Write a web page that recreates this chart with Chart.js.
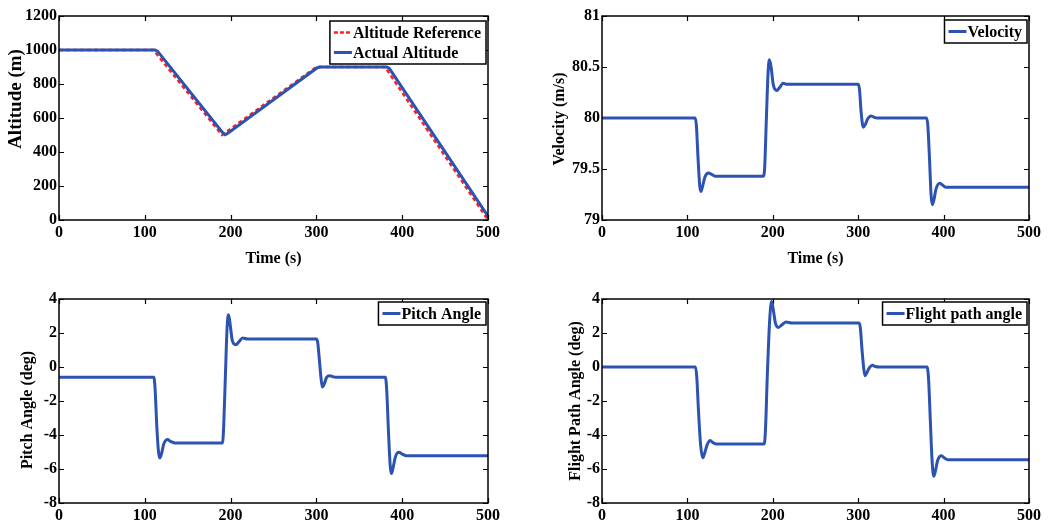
<!DOCTYPE html>
<html><head><meta charset="utf-8">
<script src="https://cdn.jsdelivr.net/npm/chart.js@4/dist/chart.umd.min.js"></script>
<style>
html,body{margin:0;padding:0;background:#fff;}
#wrap{position:relative;width:1049px;height:525px;overflow:hidden;background:#fff;}
.c{position:absolute;}
</style></head><body>
<div id="wrap">
<div class="c" style="left:0;top:0;width:525px;height:270px"><canvas id="c1"></canvas></div>
<div class="c" style="left:540px;top:0;width:509px;height:270px"><canvas id="c2"></canvas></div>
<div class="c" style="left:0;top:270px;width:525px;height:255px"><canvas id="c3"></canvas></div>
<div class="c" style="left:540px;top:270px;width:509px;height:255px"><canvas id="c4"></canvas></div>
</div>
<script>
// ---------- data ----------
const timeTicks = [0, 100, 200, 300, 400, 500];
const altitudeTicks = [0, 200, 400, 600, 800, 1000, 1200];
const velocityTicks = [79, 79.5, 80, 80.5, 81];
const angleTicks = [-8, -6, -4, -2, 0, 2, 4];

const altRefT = [0, 110, 190, 300, 380, 500];
const altRefV = [1000, 1000, 500, 900, 900, 0];
const altActT = [0, 112, 115, 191, 193.5, 196, 301, 304, 382, 385, 500];
const altActV = [1000, 1000, 992, 512, 502, 508, 896, 900, 900, 892, 22];

const velT = [0, 109, 110.5, 112.5, 114.5, 115.8, 117.5, 120.5, 124.7, 128, 132.5, 189, 190.5, 192.5, 194.5, 196, 198, 200.5, 204.6, 208, 212, 217, 300, 301.5, 303.5, 306, 308, 311, 315, 318, 322, 380, 381.5, 383.5, 385.3, 386.6, 388.5, 391, 395.5, 399, 403, 500];
const velV = [80, 80, 79.93, 79.6, 79.33, 79.28, 79.32, 79.42, 79.46, 79.45, 79.43, 79.43, 79.52, 80.0, 80.45, 80.57, 80.5, 80.33, 80.27, 80.3, 80.34, 80.33, 80.33, 80.28, 80.05, 79.91, 79.93, 79.99, 80.02, 80.01, 80.0, 80.0, 79.93, 79.6, 79.25, 79.15, 79.19, 79.3, 79.36, 79.34, 79.32, 79.32];

const pitchT = [0, 110.6, 112, 114, 116, 117.6, 119.5, 122, 126.6, 130, 135, 190.6, 192, 194, 196, 197.6, 199.5, 202, 206, 210, 214, 220, 300, 301.5, 303.5, 305.5, 307, 309.5, 312, 315.6, 320, 325, 380.4, 382, 384, 386, 387.4, 389.5, 392, 396, 400, 405, 500];
const pitchV = [-0.61, -0.61, -1.3, -3.5, -5.0, -5.35, -5.1, -4.55, -4.27, -4.38, -4.47, -4.47, -3.4, -0.4, 2.4, 3.08, 2.5, 1.55, 1.31, 1.5, 1.71, 1.65, 1.65, 1.45, 0.4, -0.7, -1.18, -0.95, -0.6, -0.51, -0.58, -0.61, -0.61, -1.4, -3.8, -5.8, -6.27, -5.9, -5.3, -5.02, -5.12, -5.22, -5.22];

const fpaT = [0, 109.5, 111, 113, 115.5, 118, 120, 123, 126.7, 130, 134, 190, 191.5, 193.5, 196.5, 198.7, 200.5, 203, 206.5, 211, 215.5, 222, 301, 302.5, 304.5, 306.5, 308, 310, 313, 316.8, 320, 325, 380.7, 382.5, 384.5, 386.5, 388.5, 390.5, 393, 397.5, 401, 405, 500];
const fpaV = [0, 0, -0.6, -2.6, -4.6, -5.35, -5.1, -4.6, -4.33, -4.45, -4.53, -4.53, -3.6, -0.6, 2.9, 3.86, 3.4, 2.6, 2.33, 2.5, 2.65, 2.59, 2.59, 2.3, 1.0, -0.1, -0.51, -0.35, -0.05, 0.1, 0.03, 0, 0, -0.8, -3.2, -5.5, -6.43, -6.1, -5.5, -5.22, -5.35, -5.45, -5.45];

// ---------- styling ----------
const BLUE = '#2c52b2';
const RED = '#ff1f1f';
const FONT = 'Liberation Serif, Times New Roman, serif';

Chart.defaults.font.family = FONT;
Chart.defaults.font.weight = 'bold';
Chart.defaults.font.size = 16;
Chart.defaults.color = '#000';

const pts = (t, v) => t.map((x, i) => ({x: x, y: v[i]}));

const framePlugin = {
  id: 'frame',
  beforeDatasetsDraw(chart) {
    const a = chart.chartArea, ctx = chart.ctx;
    const o = chart.options.plugins.frame;
    ctx.save();
    ctx.strokeStyle = '#000';
    ctx.lineWidth = 1.2;
    ctx.beginPath();
    o.xTicks.forEach(v => {
      const px = Math.round(chart.scales.x.getPixelForValue(v)) + 0.5;
      ctx.moveTo(px, a.bottom); ctx.lineTo(px, a.bottom - 5);
      ctx.moveTo(px, a.top); ctx.lineTo(px, a.top + 5);
    });
    o.yTicks.forEach(v => {
      const py = Math.round(chart.scales.y.getPixelForValue(v)) + 0.5;
      ctx.moveTo(a.left, py); ctx.lineTo(a.left + 5, py);
      ctx.moveTo(a.right, py); ctx.lineTo(a.right - 5, py);
    });
    ctx.stroke();
    // y axis title (rotated)
    ctx.fillStyle = '#000';
    ctx.font = 'bold ' + o.yTitleSize + 'px ' + FONT;
    ctx.textAlign = 'center';
    ctx.textBaseline = 'middle';
    ctx.translate(o.yTitleX, (a.top + a.bottom) / 2 + o.yTitleDy);
    ctx.rotate(-Math.PI / 2);
    ctx.fillText(o.yTitle, 0, 0);
    ctx.restore();
  },
  afterDatasetsDraw(chart) {
    const a = chart.chartArea, ctx = chart.ctx;
    const o = chart.options.plugins.frame;
    ctx.save();
    ctx.strokeStyle = '#000';
    ctx.lineWidth = 1.5;
    ctx.strokeRect(a.left, a.top, a.right - a.left, a.bottom - a.top);
    // legend box
    ctx.font = 'bold 16px ' + FONT;
    let tw = 0;
    o.items.forEach(it => { tw = Math.max(tw, ctx.measureText(it.label).width); });
    const w = 4 + 19 + 1 + tw + 4;
    const h = o.items.length * 20 + 3;
    const right = a.right - 2, top = a.top + o.legTop;
    const left = right - w;
    ctx.fillStyle = '#fff';
    ctx.fillRect(left, top, w, h);
    ctx.lineWidth = 1.5;
    ctx.strokeRect(left, top, w, h);
    o.items.forEach((it, i) => {
      const y = top + 11.5 + i * 20;
      ctx.beginPath();
      ctx.strokeStyle = it.color;
      ctx.lineWidth = it.dash ? 2.5 : 3;
      ctx.setLineDash(it.dash || []);
      ctx.moveTo(left + 4, y); ctx.lineTo(left + 22, y);
      ctx.stroke();
      ctx.setLineDash([]);
      ctx.fillStyle = '#000';
      ctx.textBaseline = 'middle';
      ctx.textAlign = 'left';
      ctx.fillText(it.label, left + 23, y + 1);
    });
    ctx.restore();
  }
};

function makeChart(id, o) {
  return new Chart(document.getElementById(id), {
    type: 'line',
    data: { datasets: o.datasets },
    plugins: [framePlugin],
    options: {
      responsive: true,
      maintainAspectRatio: false,
      animation: false,
      events: [],
      layout: { padding: { top: o.padTop, right: o.padRight, left: 0, bottom: 0 } },
      elements: { point: { radius: 0 } },
      plugins: {
        legend: { display: false },
        tooltip: { enabled: false },
        frame: { xTicks: timeTicks, yTicks: o.yTicks, items: o.items, legTop: o.legTop,
                 yTitle: o.yTitle, yTitleSize: o.yTitleSize || 16, yTitleX: o.yTitleX, yTitleDy: o.yTitleDy || 0 }
      },
      scales: {
        x: {
          type: 'linear', min: 0, max: 500,
          afterBuildTicks: s => { s.ticks = timeTicks.map(v => ({value: v})); },
          afterFit: s => { s.height = o.xH; },
          grid: { display: false, drawTicks: false },
          border: { display: false },
          ticks: { padding: o.xPad, autoSkip: false, maxRotation: 0, callback: v => String(v) },
          title: { display: !!o.xTitle, text: o.xTitle || '', padding: { top: 0, bottom: 2 } }
        },
        y: {
          type: 'linear', min: o.yTicks[0], max: o.yTicks[o.yTicks.length - 1],
          afterBuildTicks: s => { s.ticks = o.yTicks.map(v => ({value: v})); },
          afterFit: s => { s.width = o.yW; },
          grid: { display: false, drawTicks: false },
          border: { display: false },
          ticks: { padding: 2, autoSkip: false, callback: v => String(v) },
          title: { display: false }
        }
      }
    }
  });
}

makeChart('c1', {
  datasets: [
    { label: 'Altitude Reference', data: pts(altRefT, altRefV), borderColor: RED, borderWidth: 2.5, borderDash: [4, 3], tension: 0, order: 1 },
    { label: 'Actual Altitude', data: pts(altActT, altActV), borderColor: BLUE, borderWidth: 3, tension: 0, order: 0 }
  ],
  items: [ { label: 'Altitude Reference', color: RED, dash: [4, 2] }, { label: 'Actual Altitude', color: BLUE } ],
  yTicks: altitudeTicks, yTitle: 'Altitude (m)', yTitleSize: 19, yTitleX: 16, yTitleDy: -19,
  xTitle: 'Time (s)', padTop: 16, padRight: 37, yW: 59, xH: 50, xPad: 3, legTop: 5
});

makeChart('c2', {
  datasets: [
    { label: 'Velocity', data: pts(velT, velV), borderColor: BLUE, borderWidth: 3, cubicInterpolationMode: 'monotone' }
  ],
  items: [ { label: 'Velocity', color: BLUE } ],
  yTicks: velocityTicks, yTitle: 'Velocity (m/s)', yTitleX: 20, yTitleDy: 1,
  xTitle: 'Time (s)', padTop: 16, padRight: 20, yW: 62, xH: 50, xPad: 3, legTop: 4
});

makeChart('c3', {
  datasets: [
    { label: 'Pitch Angle', data: pts(pitchT, pitchV), borderColor: BLUE, borderWidth: 3, cubicInterpolationMode: 'monotone' }
  ],
  items: [ { label: 'Pitch Angle', color: BLUE } ],
  yTicks: angleTicks, yTitle: 'Pitch Angle (deg)', yTitleX: 28, yTitleDy: 9,
  xTitle: '', padTop: 29, padRight: 37, yW: 59, xH: 22, xPad: 3, legTop: 3
});

makeChart('c4', {
  datasets: [
    { label: 'Flight path angle', data: pts(fpaT, fpaV), borderColor: BLUE, borderWidth: 3, cubicInterpolationMode: 'monotone' }
  ],
  items: [ { label: 'Flight path angle', color: BLUE } ],
  yTicks: angleTicks, yTitle: 'Flight Path Angle (deg)', yTitleX: 35.5, yTitleDy: 0,
  xTitle: '', padTop: 29, padRight: 20, yW: 62, xH: 22, xPad: 3, legTop: 3
});
</script>
</body></html>
